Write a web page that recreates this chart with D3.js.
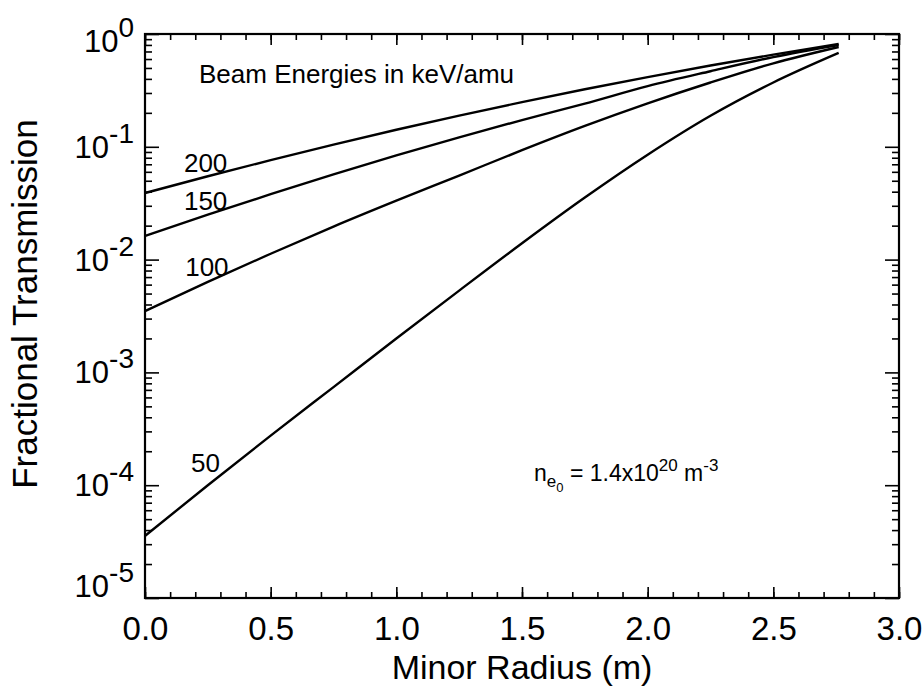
<!DOCTYPE html>
<html>
<head>
<meta charset="utf-8">
<script src="https://cdn.jsdelivr.net/npm/d3@7"></script>
<style>
  html, body { margin: 0; padding: 0; background: #fff; }
  svg { display: block; font-family: "Liberation Sans", Arial, Helvetica, sans-serif; }
</style>
</head>
<body>
<svg id="chart" width="924" height="689"></svg>
<script>
// ── Data ──────────────────────────────────────────────
const radius   = [0, 0.25, 0.5, 0.75, 1.0, 1.25, 1.5, 1.75, 2.0, 2.25, 2.5, 2.76];
const trans200 = [0.0389, 0.0548, 0.0762, 0.1047, 0.1416, 0.1892, 0.2489, 0.3236, 0.4150, 0.5260, 0.6561, 0.8147];
const trans150 = [0.0162, 0.0250, 0.0380, 0.0569, 0.0838, 0.1213, 0.1726, 0.2415, 0.3451, 0.4677, 0.6237, 0.7980];
const trans100 = [0.00350, 0.00635, 0.01127, 0.01963, 0.0333, 0.0556, 0.0933, 0.1531, 0.2427, 0.3715, 0.5495, 0.7674];
const trans50  = [3.55e-5, 1.00e-4, 2.754e-4, 7.41e-4, 1.995e-3, 5.31e-3, 0.01396, 0.0355, 0.0851, 0.1884, 0.3715, 0.6792];
const energies = ['200', '150', '100', '50'];
const series   = [trans200, trans150, trans100, trans50];

const xMajorTicks = [0, 0.5, 1.0, 1.5, 2.0, 2.5, 3.0];
const xMinorTicks = d3.range(0, 31).map(i => i / 10);
const yExponents  = [0, -1, -2, -3, -4, -5];

// ── Layout ────────────────────────────────────────────
const L = 145, R = 899, T = 34, B = 598;
const svg = d3.select('#chart');

const x = d3.scaleLinear().domain([0, 3]).range([L, R]);
const y = d3.scaleLog().domain([1e-5, 1]).range([B, T]);

const yMinorTicks = [];
yExponents.slice(0, -1).forEach(e => {
  for (let k = 2; k <= 9; k++) yMinorTicks.push(k * Math.pow(10, e - 1));
});
const yMajorTicks = yExponents.map(e => Math.pow(10, e));

function styleAxis(g) {
  g.select('.domain').remove();
  g.selectAll('.tick line').attr('stroke', '#000').attr('stroke-width', 1.6);
}

// ── Axes (ticks point inward) ─────────────────────────
svg.append('g').attr('transform', `translate(0,${B})`)
  .call(d3.axisBottom(x).tickValues(xMinorTicks).tickSize(-6).tickFormat(''))
  .call(styleAxis);

const xAxisG = svg.append('g').attr('transform', `translate(0,${B})`)
  .call(d3.axisBottom(x).tickValues(xMajorTicks).tickSize(-11).tickPadding(19)
    .tickFormat(d3.format('.1f')))
  .call(styleAxis);
xAxisG.selectAll('.tick text')
  .attr('fill', '#000')
  .attr('font-size', 33)
  .attr('font-family', '"Liberation Sans", Arial, sans-serif');

svg.append('g').attr('transform', `translate(0,${T})`)
  .call(d3.axisTop(x).tickValues(xMinorTicks).tickSize(-6).tickFormat(''))
  .call(styleAxis);
svg.append('g').attr('transform', `translate(0,${T})`)
  .call(d3.axisTop(x).tickValues(xMajorTicks).tickSize(-11).tickFormat(''))
  .call(styleAxis);

svg.append('g').attr('transform', `translate(${L},0)`)
  .call(d3.axisLeft(y).tickValues(yMinorTicks).tickSize(-7).tickFormat(''))
  .call(styleAxis);
svg.append('g').attr('transform', `translate(${L},0)`)
  .call(d3.axisLeft(y).tickValues(yMajorTicks).tickSize(-14).tickFormat(''))
  .call(styleAxis);

svg.append('g').attr('transform', `translate(${R},0)`)
  .call(d3.axisRight(y).tickValues(yMinorTicks).tickSize(-7).tickFormat(''))
  .call(styleAxis);
svg.append('g').attr('transform', `translate(${R},0)`)
  .call(d3.axisRight(y).tickValues(yMajorTicks).tickSize(-14).tickFormat(''))
  .call(styleAxis);

// y tick labels as 10^n
const yLabelShift = { '0': 18, '-5': -1 };
yExponents.forEach(e => {
  const t = svg.append('text')
    .attr('x', 134)
    .attr('y', y(Math.pow(10, e)) + (yLabelShift[e] ?? 11))
    .attr('text-anchor', 'end')
    .attr('fill', '#000');
  t.append('tspan').attr('font-size', 31).text('10');
  t.append('tspan').attr('font-size', 28).attr('dy', -15).text(e === 0 ? '0' : '-' + Math.abs(e));
});

// frame
svg.append('rect')
  .attr('x', L).attr('y', T)
  .attr('width', R - L).attr('height', B - T)
  .attr('fill', 'none')
  .attr('stroke', '#000')
  .attr('stroke-width', 2.2);

// ── Curves ────────────────────────────────────────────
const line = d3.line()
  .x((d, i) => x(radius[i]))
  .y(d => y(d))
  .curve(d3.curveMonotoneX);

svg.append('g').selectAll('path')
  .data(series)
  .join('path')
    .attr('d', d => line(d))
    .attr('fill', 'none')
    .attr('stroke', '#000')
    .attr('stroke-width', 2.4);

// curve labels
const labelAt = [
  { r: 0.155, v: 0.0598 },
  { r: 0.155, v: 0.0275 },
  { r: 0.160, v: 0.00716 },
  { r: 0.183, v: 1.31e-4 },
];
energies.forEach((lab, i) => {
  svg.append('text')
    .attr('x', x(labelAt[i].r))
    .attr('y', y(labelAt[i].v))
    .attr('font-size', 26)
    .attr('fill', '#000')
    .text(lab);
});

svg.append('text')
  .attr('x', 199).attr('y', 83)
  .attr('font-size', 26)
  .attr('fill', '#000')
  .text('Beam Energies in keV/amu');

// density note
const note = svg.append('text')
  .attr('x', 534).attr('y', 481)
  .attr('font-size', 23)
  .attr('fill', '#000');
note.append('tspan').text('n');
note.append('tspan').attr('font-size', 17).attr('dy', 6).text('e');
note.append('tspan').attr('font-size', 13).attr('dy', 5).text('0');
note.append('tspan').attr('dy', -11).text(' = 1.4x10');
note.append('tspan').attr('font-size', 17).attr('dy', -10).text('20');
note.append('tspan').attr('dy', 10).text(' m');
note.append('tspan').attr('font-size', 17).attr('dy', -10).text('-3');

// ── Axis titles ───────────────────────────────────────
svg.append('text')
  .attr('x', 522).attr('y', 679)
  .attr('text-anchor', 'middle')
  .attr('font-size', 34)
  .attr('fill', '#000')
  .text('Minor Radius (m)');

svg.append('text')
  .attr('transform', 'translate(37,304) rotate(-90)')
  .attr('text-anchor', 'middle')
  .attr('font-size', 35)
  .attr('fill', '#000')
  .text('Fractional Transmission');
</script>
</body>
</html>
